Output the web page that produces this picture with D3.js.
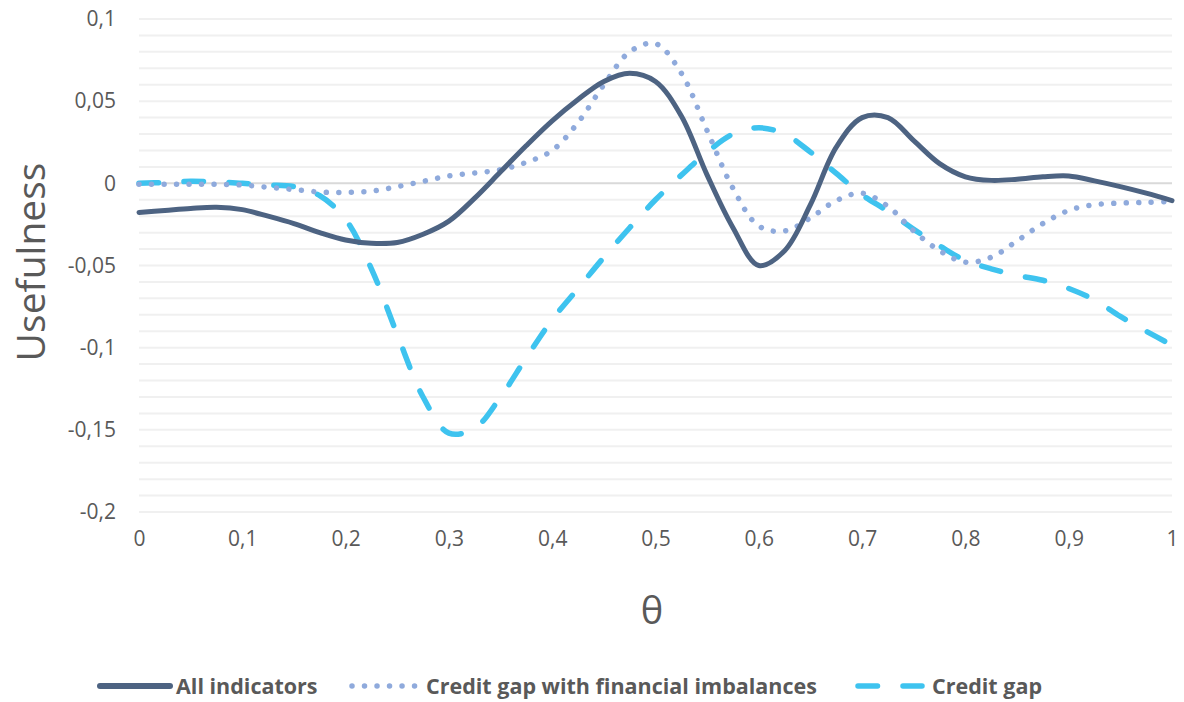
<!DOCTYPE html>
<html>
<head>
<meta charset="utf-8">
<script src="https://cdn.jsdelivr.net/npm/d3@7"></script>
<style>
  body { margin: 0; background: #fff; }
  text { font-family: "Open Sans", "Noto Sans", sans-serif; fill: #595959; }
</style>
</head>
<body>
<div id="chart"></div>
<script>
// theta values (x)
var thetas = [0, 0.025, 0.05, 0.075, 0.1, 0.125, 0.15, 0.175, 0.2, 0.225,
              0.25, 0.275, 0.3, 0.325, 0.35, 0.375, 0.4, 0.425, 0.45, 0.475,
              0.5, 0.525, 0.55, 0.575, 0.6, 0.625, 0.65, 0.675, 0.7, 0.725,
              0.75, 0.775, 0.8, 0.825, 0.85, 0.875, 0.9, 0.925, 0.95, 0.975, 1]

var allIndicators = [-0.0177, -0.0165, -0.0153, -0.0146, -0.016, -0.020, -0.0245, -0.030, -0.0345, -0.0365,
                     -0.036, -0.031, -0.023, -0.009, 0.007, 0.023, 0.038, 0.051, 0.062, 0.067,
                     0.062, 0.041, 0.005, -0.027, -0.050, -0.041, -0.013, 0.022, 0.040, 0.040,
                     0.026, 0.012, 0.004, 0.0018, 0.0025, 0.004, 0.0045, 0.0015, -0.002, -0.006, -0.0105]

var creditGapFin = [-0.0005, -0.0006, -0.0006, -0.0006, -0.001, -0.0024, -0.0038, -0.0053, -0.0055, -0.0048,
                    -0.002, 0.0012, 0.0045, 0.0063, 0.0083, 0.0128, 0.020, 0.037, 0.060, 0.080,
                    0.085, 0.067, 0.032, -0.003, -0.026, -0.029, -0.021, -0.0105, -0.006, -0.014,
                    -0.029, -0.041, -0.048, -0.045, -0.035, -0.0245, -0.0165, -0.013, -0.012, -0.0116, -0.011]

var creditGap = [0, 0.0005, 0.0012, 0.0008, 0, -0.001, -0.002, -0.0075, -0.022, -0.052,
                 -0.092, -0.130, -0.152, -0.149, -0.130, -0.106, -0.083, -0.064, -0.045, -0.027,
                 -0.010, 0.005, 0.019, 0.030, 0.0338, 0.030, 0.019, 0.006, -0.007, -0.017,
                 -0.028, -0.038, -0.047, -0.052, -0.056, -0.059, -0.064, -0.071, -0.081, -0.090, -0.0985]

var seriesNames = ["All indicators", "Credit gap with financial imbalances", "Credit gap"]
var yTicks = [0.1, 0.05, 0, -0.05, -0.1, -0.15, -0.2]
var xTicks = [0, 0.1, 0.2, 0.3, 0.4, 0.5, 0.6, 0.7, 0.8, 0.9, 1]

var width = 1184
var height = 702

var svg = d3.select('#chart').append("svg")
    .attr("width", width)
    .attr("height", height)

var x = d3.scaleLinear().domain([0, 1]).range([139, 1172])
var y = d3.scaleLinear().domain([-0.2, 0.1]).range([512, 19])

var locale = d3.formatLocale({decimal: ",", thousands: ".", grouping: [3], currency: ["", ""], minus: "-"})
var fmt = locale.format("~g")

// gridlines every 0.01
var grid = d3.range(-20, 11).map(function(i){ return i / 100 })
svg.append("g")
    .selectAll("line")
    .data(grid)
    .enter().append("line")
    .attr("x1", x(0)).attr("x2", x(1))
    .attr("y1", function(d){ return y(d) }).attr("y2", function(d){ return y(d) })
    .attr("stroke", function(d){ return Math.abs(d) < 1e-9 ? "#d9d9d9" : "#f0f0f0" })
    .attr("stroke-width", 2)

// y axis labels
var yAxis = d3.axisLeft(y).tickValues(yTicks).tickFormat(fmt).tickSize(0).tickPadding(0)
svg.append("g")
    .attr("transform", "translate(116,0)")
    .call(yAxis)
    .call(function(g){ g.select(".domain").remove() })
    .selectAll("text")
    .attr("font-size", 21)
    .attr("font-family", null)
    .attr("fill", null)

// x axis labels
var xAxis = d3.axisBottom(x).tickValues(xTicks).tickFormat(fmt).tickSize(0).tickPadding(0)
svg.append("g")
    .attr("transform", "translate(0,531)")
    .call(xAxis)
    .call(function(g){ g.select(".domain").remove() })
    .selectAll("text")
    .attr("font-size", 21)
    .attr("font-family", null)
    .attr("fill", null)

// axis titles
svg.append("text")
    .attr("transform", "translate(45,262) rotate(-90)")
    .attr("text-anchor", "middle")
    .attr("font-size", 39)
    .text("Usefulness")

svg.append("text")
    .attr("x", 652)
    .attr("y", 624)
    .attr("text-anchor", "middle")
    .attr("font-size", 38)
    .text("θ")

// lines
var line = d3.line()
    .x(function(d){ return x(d[0]) })
    .y(function(d){ return y(d[1]) })
    .curve(d3.curveCatmullRom.alpha(0.5))

var styles = [
    {color: "#4d6382", dash: null, width: 5},
    {color: "#8faadc", dash: "0.01 12.5", width: 5.5},
    {color: "#3ec3ef", dash: "19.5 25.5", width: 5.5}
]
var values = [allIndicators, creditGapFin, creditGap]

// draw in reverse so the solid line is on top
for (var i = 2; i >= 0; i--) {
    svg.append("path")
        .datum(thetas.map(function(t, j){ return [t, values[i][j]] }))
        .attr("fill", "none")
        .attr("stroke", styles[i].color)
        .attr("stroke-width", styles[i].width)
        .attr("stroke-linecap", "round")
        .attr("stroke-linejoin", "round")
        .attr("stroke-dasharray", styles[i].dash)
        .attr("d", line)
}

// legend
var legendItems = [
    {x1: 100, x2: 170, tx: 176},
    {x1: 352, x2: 420, tx: 426},
    {x1: 858, x2: 922, tx: 932}
]
var lg = svg.append("g")
legendItems.forEach(function(it, i){
    lg.append("line")
        .attr("x1", it.x1).attr("x2", it.x2)
        .attr("y1", 686).attr("y2", 686)
        .attr("stroke", styles[i].color)
        .attr("stroke-width", i == 0 ? 6 : 5.5)
        .attr("stroke-linecap", "round")
        .attr("stroke-dasharray", styles[i].dash)
    lg.append("text")
        .attr("x", it.tx)
        .attr("y", 694)
        .attr("font-size", 21.5)
        .attr("font-weight", "bold")
        .attr("textLength", null)
        .text(seriesNames[i])
})
</script>
</body>
</html>
